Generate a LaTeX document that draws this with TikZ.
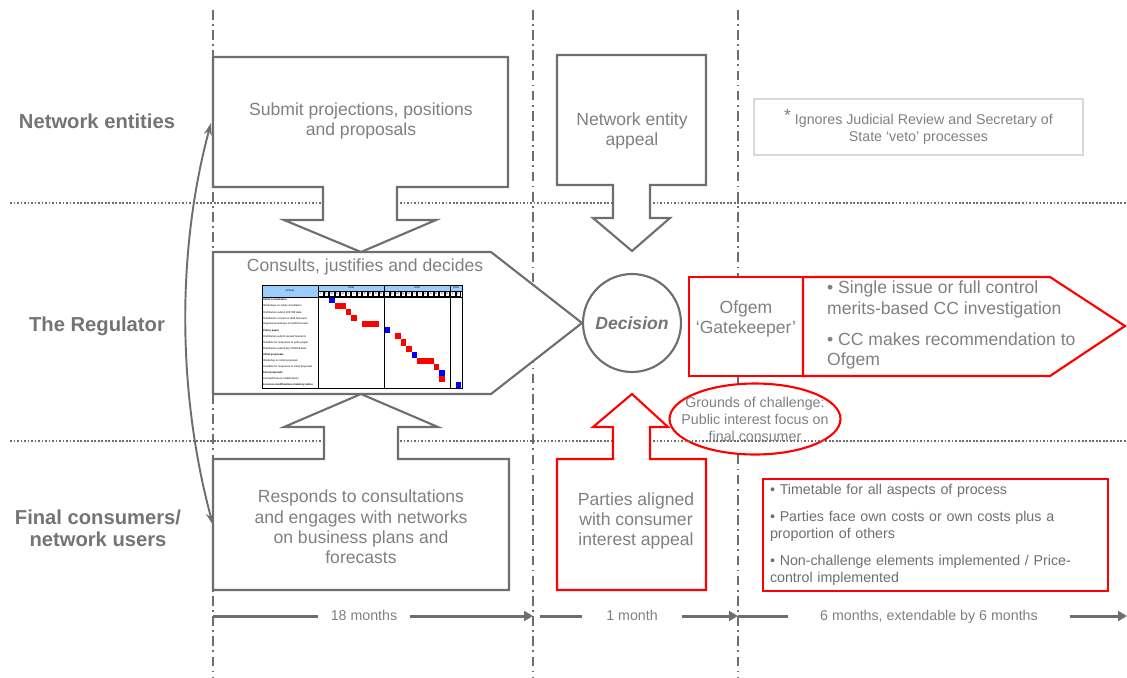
\documentclass[tikz,border=0pt]{standalone}
\usepackage{fontspec}
\setmainfont{Liberation Sans}
\usetikzlibrary{arrows.meta,shapes.geometric}
\definecolor{lgray}{HTML}{6E6E6E}
\definecolor{tgray}{HTML}{808080}
\definecolor{rgray}{HTML}{747474}
\definecolor{pale}{HTML}{D9D9D9}
\definecolor{hblue}{HTML}{99CCFF}
\definecolor{ored}{HTML}{FF0000}

\begin{document}
\begin{tikzpicture}[x=0.02cm,y=-0.02cm,
  vline/.style={lgray,line width=1.2pt,dash pattern=on 5.5pt off 2.5pt on 1pt off 2.5pt},
  hline/.style={lgray,line width=0.9pt,dash pattern=on 1pt off 1pt},
  gbox/.style={draw=lgray,line width=1.2pt,fill=white},
  rbox/.style={draw=ored,line width=1.2pt,fill=white},
  txt/.style={text=tgray,align=center,font=\fontsize{10}{11.6}\selectfont},
  row/.style={text=rgray,align=center,font=\bfseries\fontsize{11.5}{13}\selectfont},
  small/.style={text=tgray,font=\fontsize{8.1}{9.7}\selectfont},
  span/.style={lgray,line width=1.7pt,-{Triangle[length=5pt,width=5.5pt]}},
  spanlab/.style={small,fill=white,inner sep=1pt,text height=6pt,text depth=2pt},
  curv/.style={lgray,line width=1.1pt,{Stealth[length=7pt,width=4.5pt]}-{Stealth[length=7pt,width=4.5pt]}},
  tiny/.style={font=\fontsize{1.5}{1.8}\selectfont,inner sep=0pt}
]
\useasboundingbox (0,0) rectangle (1127,677);

% phases and rows
\foreach \x in {213,533,738} \draw[vline] (\x,10) -- (\x,677);
\node[ellipse,rbox,minimum width=3.42cm,minimum height=1.42cm,inner sep=0pt] (gnd) at (755,419) {};
\foreach \y in {203,441} \draw[hline] (10,\y) -- (1127,\y);

% block arrows
\draw[gbox] (213,57) -- (508,57) -- (508,187) -- (397,187) -- (397,220) -- (436,220) -- (361,252) -- (284,220) -- (323,220) -- (323,187) -- (213,187) -- cycle;
\draw[gbox] (213,252) -- (491,252) -- (582,323) -- (491,394) -- (213,394) -- cycle;
\draw[gbox] (213,590) -- (509,590) -- (509,459) -- (398,459) -- (398,427) -- (438,427) -- (361,394) -- (284,427) -- (324,427) -- (324,459) -- (213,459) -- cycle;
\draw[gbox] (557,55) -- (706,55) -- (706,185) -- (650,185) -- (650,218) -- (670,218) -- (632,251) -- (593,218) -- (613,218) -- (613,185) -- (557,185) -- cycle;
\draw[rbox] (557,590) -- (706,590) -- (706,459) -- (650,459) -- (650,427) -- (668,427) -- (632,394) -- (593,427) -- (613,427) -- (613,459) -- (557,459) -- cycle;
\draw[rbox] (689,277) rectangle (803,376);
\draw[rbox] (803,277) -- (1050,277) -- (1125,326) -- (1050,376) -- (803,376) -- cycle;

% gantt chart
\fill[white] (262,285) rectangle (462,388);
\fill[hblue] (262,285) rectangle (318,297);
\foreach \a/\b in {318/384,384/450,450/462} \fill[hblue] (\a,285) rectangle (\b,291);
\foreach \l [count=\m from 0] in {J,F,M,A,M,J,J,A,S,O,N,D,J,F,M,A,M,J,J,A,S,O,N,D,J,F} {
  \draw[line width=0.25pt,fill=white] ({318.6+\m*5.5},291.6) rectangle ++(4.3,4.8);
  \node[tiny] (mo\m) at ({320.75+\m*5.5},294) {\l};
}
\foreach \r/\m/\n/\c in {0/2/1/blue,1/3/2/red,2/5/1/red,3/6/1/red,4/8/3/red,5/12/1/blue,6/14/1/red,7/15/1/red,8/16/1/red,9/17/1/blue,10/18/3/red,11/21/1/red,12/22/1/blue,13/22/1/red,14/25/1/blue}
  \fill[\c] ({318+\m*5.5},{297+\r*6.067}) rectangle ++({\n*5.5},6.067);
\foreach \t [count=\i from 0] in {\textbf{Initial consultation},Workshops on initial consultation,{Distributors submit 2007/08 data},Distributors consult on draft forecasts,Regional workshops on draft forecasts,\textbf{Policy paper},Distributors submit revised forecasts,Deadline for responses to policy paper,{Distributors submit key 2008/09 data},\textbf{Initial proposals},Workshop on initial proposals,Deadline for responses to initial proposals,\textbf{Final proposals},Full draft licence modifications,\textbf{Licences modifications statutory notice}}
  \node[tiny,anchor=west] (act\i) at (263,{297+(\i+0.5)*6.067}) {\t};
\node[tiny] (acth) at (290,291) {Activity};
\node[tiny] (y1) at (351,288) {2008};
\node[tiny] (y2) at (417,288) {2009};
\node[tiny] (y3) at (456,288) {2010};
\draw[line width=0.5pt] (262,285) rectangle (462,388);
\draw[line width=0.5pt] (262,297) -- (462,297) (318,291) -- (462,291);
\foreach \x in {318,384,450} \draw[line width=0.5pt] (\x,285) -- (\x,388);

% texts
\node[row] (ne) at (97,121) {Network entities};
\node[row] (reg) at (97,326) {The Regulator};
\node[row] (fc) at (98,528) {Final consumers/\\[-0.5pt]network users};
\node[txt] (sub) at (361,121) {Submit projections, positions\\and proposals};
\node[txt] (cjd) at (365,267) {Consults, justifies and decides};
\node[txt] (resp) at (361,527) {Responds to consultations\\and engages with networks\\on business plans and\\forecasts};
\node[txt] (nea) at (632,131) {Network entity\\appeal};
\node[txt] (pac) at (636,521) {Parties aligned\\with consumer\\interest appeal};
\node[draw=lgray,line width=1.2pt,fill=white,circle,minimum size=1.96cm,text=rgray,font=\bfseries\itshape\fontsize{10}{12}\selectfont] (dec) at (632,323) {Decision};
\node[txt] (gk) at (746,319) {Ofgem\\‘Gatekeeper’};
\node[txt,align=left,anchor=west] (cc) at (821,325) {• Single issue or full control\\merits-based CC investigation\\[6pt]• CC makes recommendation to\\Ofgem};
\node[small,align=center] (gtx) at (gnd.center) {Grounds of challenge:\\Public interest focus on\\final consumer};
\node[small,draw=pale,line width=1.2pt,align=center,minimum width=6.58cm,minimum height=1.12cm] (note) at (918.5,127) {\raisebox{1.5pt}{\fontsize{10}{10}\selectfont *}~Ignores Judicial Review and Secretary of\\State ‘veto’ processes};
\node[small,text=lgray,draw=ored,line width=1.2pt,align=left,minimum width=6.9cm,minimum height=2.1cm,text width=6.62cm,inner xsep=0.14cm] (rules) at (935.5,535) {• Timetable for all aspects of process\\[5.5pt]• Parties face own costs or own costs plus a\\proportion of others\\[5.5pt]• Non-challenge elements implemented / Price-\\control implemented};

% two-way arrow between rows
\coordinate (ctop) at (211,123);
\coordinate (cbot) at (213,525);
\draw[curv] (ctop) .. controls +(-35,130) and +(-35,-130) .. (cbot);

% timeline
\coordinate (t0) at (213,616);
\coordinate (t1) at (533,616);
\coordinate (t2) at (540,616);
\coordinate (t3) at (738,616);
\coordinate (t4) at (1127,616);
\draw[span] (t0) -- (t1);
\draw[span] (t2) -- (t3);
\draw[span] (t3) -- (t4);
\node[spanlab,minimum width=1.84cm] (m18) at (364,617) {18 months};
\node[spanlab,minimum width=2cm] (m1) at (632,617) {1 month};
\node[spanlab,minimum width=5.64cm] (m6) at (929,617) {6 months, extendable by 6 months};
\end{tikzpicture}
\end{document}
